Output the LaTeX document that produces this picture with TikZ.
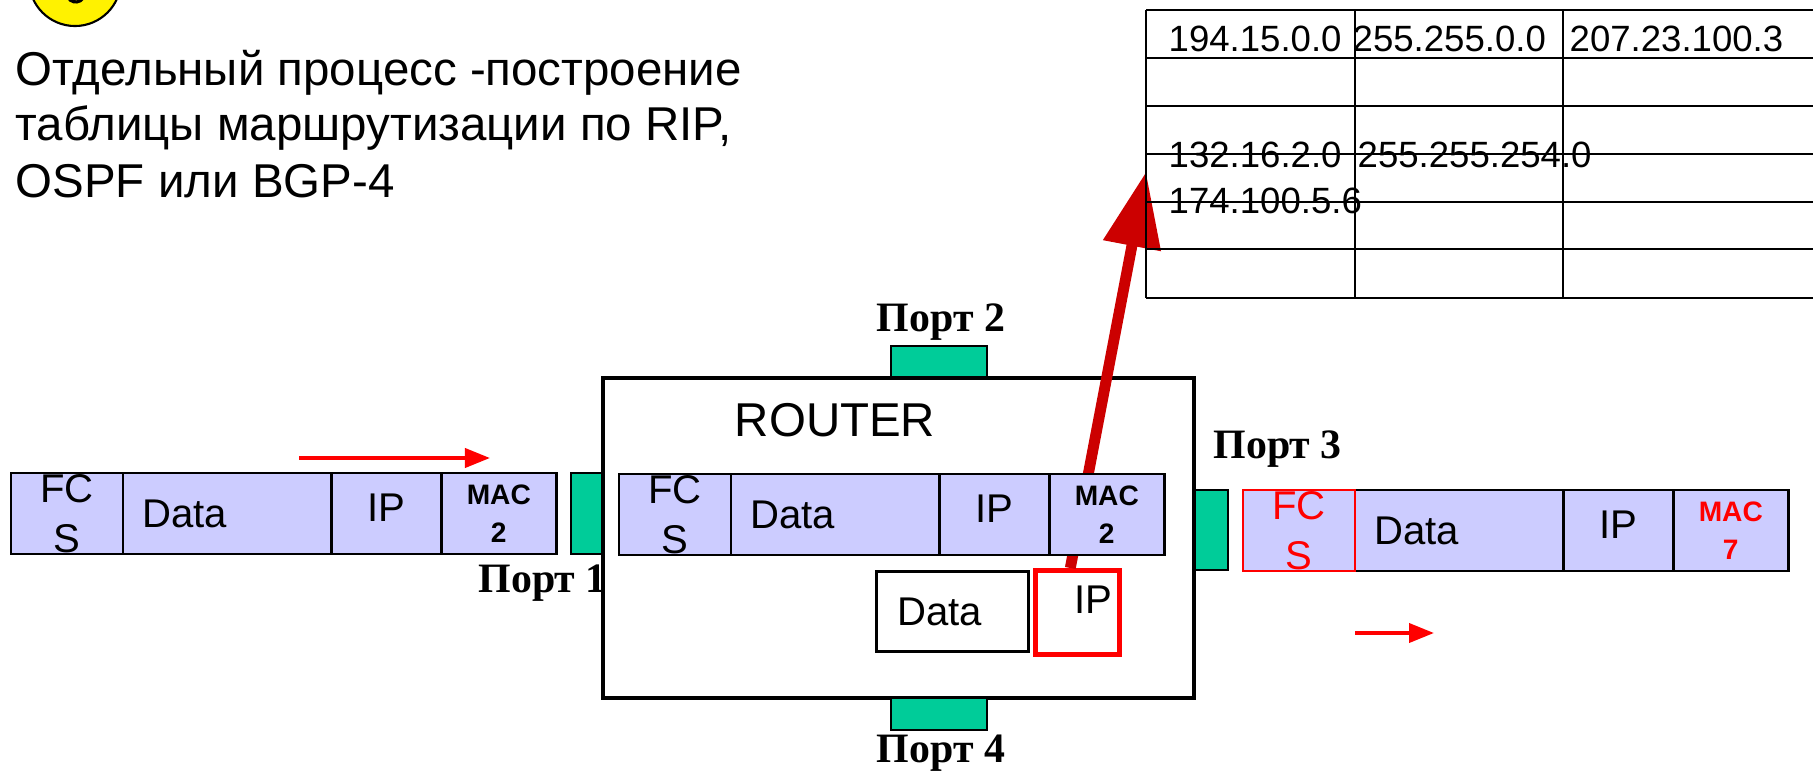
\documentclass[tikz,border=0pt]{standalone}
\usepackage{fontspec}
\setmainfont{Liberation Sans}
\newfontfamily\portfamily{Liberation Serif}
\usetikzlibrary{positioning,arrows.meta}

\definecolor{cellblue}{HTML}{CCCCFF}
\definecolor{portgreen}{HTML}{00CC99}
\definecolor{darkred}{HTML}{CC0000}

\tikzset{
  cell/.style={draw, line width=0.8pt, fill=cellblue, inner sep=0pt, outer sep=0pt,
    minimum height=0.81cm, font=\fontsize{11.4}{14.2}\selectfont, align=center},
  fcscell/.style={cell, minimum width=1.12cm},
  datacell/.style={cell, text width=1.70cm, inner xsep=0.19cm, align=left},
  ipcell/.style={cell, minimum width=1.10cm, text depth=0.12cm},
  maccell/.style={cell, minimum width=1.15cm, font=\fontsize{8}{10.8}\selectfont\bfseries},
  port/.style={draw, line width=0.8pt, fill=portgreen, inner sep=0pt, outer sep=0pt, anchor=north west},
  portname/.style={font=\portfamily\bfseries\fontsize{11.9}{14}\selectfont, inner sep=0pt},
  bigtxt/.style={font=\fontsize{13.5}{16}\selectfont, inner sep=0pt},
  tabtxt/.style={font=\fontsize{10.4}{12}\selectfont, inner sep=0pt, anchor=base west},
  flow/.style={red, line width=1.1pt, -{Triangle[length=0.25cm,width=0.19cm]}},
}

\begin{document}
\begin{tikzpicture}[x=0.01cm,y=-0.01cm]
\useasboundingbox (0,0) rectangle (1813,770);
\clip (0,0) rectangle (1813,770);

% badge in the corner
\node[draw, circle, fill=yellow, line width=0.6pt, minimum size=0.92cm, inner sep=0pt] (badge) at (75,-20) {};
\draw[line width=0.9pt] (68,-2.5) arc[start angle=210, end angle=330, radius=0.09cm];

\node[bigtxt, anchor=base west] (line1) at (15,86) {Отдельный процесс -построение};
\node[bigtxt, anchor=base west] (line2) at (15,141) {таблицы маршрутизации по RIP,};
\node[bigtxt, anchor=base west] (line3) at (15,198) {OSPF или BGP-4};

% incoming frame
\node[fcscell, anchor=north west] (p1fcs) at (11,473) {FC\\S};
\node[datacell, right=0pt of p1fcs] (p1data) {Data};
\node[ipcell, right=0pt of p1data] (p1ip) {IP};
\node[maccell, right=0pt of p1ip] (p1mac) {MAC\\2};

\coordinate (in1) at (299,458);
\coordinate (in2) at (490,458);
\draw[flow] (in1) -- (in2);

\node[portname, anchor=base west] (lbl1) at (478,592) {Порт 1};

% router
\node[draw, line width=1.2pt, fill=white, minimum width=5.91cm, minimum height=3.20cm, inner sep=0pt, outer sep=0pt] (router) at (898.5,538) {};
\node[bigtxt, anchor=base] (rtitle) at (835,436) {ROUTER};

\node[port, minimum width=0.31cm, minimum height=0.81cm] (port1) at (571,473) {};
\node[port, minimum width=0.96cm, minimum height=0.31cm] (port2) at (891,346) {};
\node[port, minimum width=0.33cm, minimum height=0.80cm] (port3) at (1195,490) {};
\node[port, minimum width=0.96cm, minimum height=0.32cm] (port4) at (891,698) {};

\node[portname, anchor=base] (lbl2) at (941,331) {Порт 2};
\node[portname, anchor=base west] (lbl3) at (1213,458) {Порт 3};
\node[portname, anchor=base] (lbl4) at (941,762) {Порт 4};

\node[draw=red, line width=1.3pt, fill=white, minimum width=0.84cm, minimum height=0.84cm, inner sep=0pt, anchor=north west] (ipbox) at (1033,568) {};
\node[anchor=base west, inner sep=0pt, font=\fontsize{11.4}{13.4}\selectfont] (iptxt) at (1074,613) {IP};

\coordinate (tabtip) at (1146,172);
\draw[darkred, line width=3.1pt, -{Triangle[length=0.75cm,width=0.56cm]}] ([xshift=-0.07cm]ipbox.north) -- (tabtip);

\node[fcscell, anchor=north west] (rfcs) at (619,474) {FC\\S};
\node[datacell, right=0pt of rfcs] (rdata) {Data};
\node[ipcell, right=0pt of rdata] (rip) {IP};
\node[maccell, right=0pt of rip] (rmac) {MAC\\2};

\node[draw, line width=0.8pt, fill=white, text width=1.10cm, inner xsep=0.21cm, inner ysep=0pt, align=left, minimum height=0.80cm, anchor=north west, font=\fontsize{11.4}{13.4}\selectfont] (payload) at (875,570) {Data};

% outgoing frame
\node[fcscell, anchor=north west, text=red] (p3fcs) at (1243,490) {FC\\S};
\node[datacell, right=0pt of p3fcs] (p3data) {Data};
\node[ipcell, right=0pt of p3data] (p3ip) {IP};
\node[maccell, right=0pt of p3ip, text=red] (p3mac) {MAC\\7};
\draw[red, line width=0.8pt] (p3fcs.south west) rectangle (p3fcs.north east);

\coordinate (out1) at (1355,633);
\coordinate (out2) at (1434,633);
\draw[flow] (out1) -- (out2);

% routing table
\draw[line width=0.6pt] (1146,10) -- (1813,10);
\draw[line width=0.6pt] (1146,58) -- (1813,58);
\draw[line width=0.6pt] (1146,106) -- (1813,106);
\draw[line width=0.6pt] (1146,154) -- (1813,154);
\draw[line width=0.6pt] (1146,202) -- (1813,202);
\draw[line width=0.6pt] (1146,249) -- (1813,249);
\draw[line width=0.6pt] (1146,298) -- (1813,298);
\draw[line width=0.6pt] (1146,10) -- (1146,298);
\draw[line width=0.6pt] (1355,10) -- (1355,298);
\draw[line width=0.6pt] (1563,10) -- (1563,298);

\node[tabtxt] (net1) at (1168,52) {194.15.0.0};
\node[tabtxt] (mask1) at (1352,52) {255.255.0.0};
\node[tabtxt] (hop1) at (1569,52) {207.23.100.3};
\node[tabtxt] (net2) at (1168,168) {132.16.2.0};
\node[tabtxt] (mask2) at (1357,168) {255.255.254.0};
\node[tabtxt] (hop2) at (1168,213) {174.100.5.6};
\end{tikzpicture}
\end{document}
